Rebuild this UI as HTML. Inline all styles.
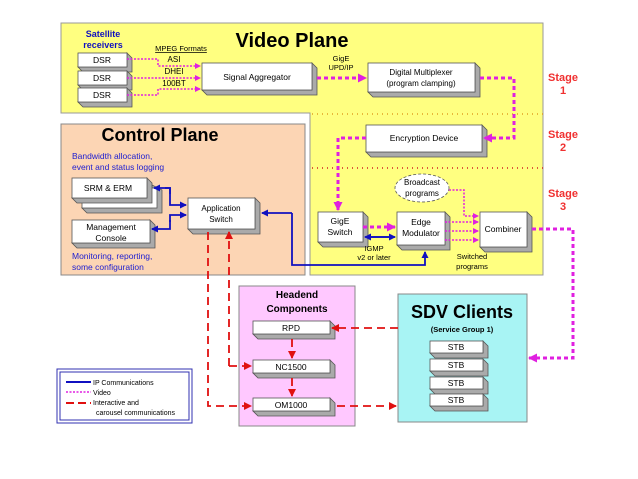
<!DOCTYPE html>
<html><head><meta charset="utf-8"><style>
html,body{margin:0;padding:0;background:#fff}
svg{display:block;font-family:"Liberation Sans",Arial,sans-serif}
</style></head><body>
<svg width="638" height="479" viewBox="0 0 638 479" xmlns="http://www.w3.org/2000/svg">
<defs>
<marker id="am" markerWidth="6" markerHeight="6" refX="5" refY="3" orient="auto" markerUnits="userSpaceOnUse"><path d="M0,0 L6,3 L0,6z" fill="#e020e0"/></marker>
<marker id="ab" markerWidth="7" markerHeight="7" refX="6" refY="3.5" orient="auto" markerUnits="userSpaceOnUse"><path d="M0,0 L7,3.5 L0,7z" fill="#1010c0"/></marker>
<marker id="ar" markerWidth="8" markerHeight="8" refX="7" refY="4" orient="auto" markerUnits="userSpaceOnUse"><path d="M0,0 L8,4 L0,8z" fill="#e01010"/></marker>
<marker id="amb" markerWidth="9" markerHeight="9" refX="8" refY="4.5" orient="auto" markerUnits="userSpaceOnUse"><path d="M0,0 L9,4.5 L0,9z" fill="#e020e0"/></marker>
</defs>
<path d="M61,23 H543 V275 H310 V113 H61 Z" fill="#ffff80" stroke="#999" stroke-width="1"/>
<rect x="61" y="124" width="244" height="151" fill="#fcd5b4" stroke="#888"/>
<line x1="312" y1="114" x2="543" y2="114" stroke="#e0a020" stroke-dasharray="1,4" stroke-width="1.5"/>
<line x1="312" y1="168" x2="543" y2="168" stroke="#d02020" stroke-dasharray="1,4" stroke-width="1.5"/>
<text x="292" y="47" font-size="20" font-weight="bold" text-anchor="middle">Video Plane</text>
<text x="103" y="37" font-size="9" font-weight="bold" fill="#1010c0" text-anchor="middle">Satellite</text>
<text x="103" y="48" font-size="9" font-weight="bold" fill="#1010c0" text-anchor="middle">receivers</text>
<text x="181" y="51" font-size="7.5" text-anchor="middle" text-decoration="underline">MPEG Formats</text>
<text x="174" y="62" font-size="8" text-anchor="middle">ASI</text>
<text x="174" y="74" font-size="8" text-anchor="middle">DHEI</text>
<text x="174" y="86" font-size="8" text-anchor="middle">100BT</text>
<text x="160" y="141" font-size="18" font-weight="bold" text-anchor="middle">Control Plane</text>
<text x="72" y="159" font-size="8.5" fill="#2020d0">Bandwidth allocation,</text>
<text x="72" y="170" font-size="8.5" fill="#2020d0">event and status logging</text>
<text x="72" y="259" font-size="8.5" fill="#2020d0">Monitoring, reporting,</text>
<text x="72" y="270" font-size="8.5" fill="#2020d0">some configuration</text>
<rect x="239" y="286" width="116" height="140" fill="#ffc8ff" stroke="#888"/>
<text x="297" y="298" font-size="10" font-weight="bold" text-anchor="middle">Headend</text>
<text x="297" y="312" font-size="10" font-weight="bold" text-anchor="middle">Components</text>
<rect x="398" y="294" width="129" height="128" fill="#a8f4f4" stroke="#888"/>
<text x="462" y="318" font-size="18" font-weight="bold" text-anchor="middle">SDV Clients</text>
<text x="462" y="332" font-size="7.5" font-weight="bold" text-anchor="middle">(Service Group 1)</text>
<g fill="#f03030" font-size="11" font-weight="bold" text-anchor="middle">
<text x="563" y="81">Stage</text><text x="563" y="94">1</text>
<text x="563" y="138">Stage</text><text x="563" y="151">2</text>
<text x="563" y="197">Stage</text><text x="563" y="210">3</text>
</g>
<g font-size="8.5" text-anchor="middle" stroke-width="0.8">
<g><polygon points="127,53 132,58 132,72 83,72 78,67 127,67" fill="#aaa" stroke="#555"/><rect x="78" y="53" width="49" height="14" fill="#fff" stroke="#555"/><text x="102" y="63">DSR</text></g>
<g><polygon points="127,71 132,76 132,90 83,90 78,85 127,85" fill="#aaa" stroke="#555"/><rect x="78" y="71" width="49" height="14" fill="#fff" stroke="#555"/><text x="102" y="81">DSR</text></g>
<g><polygon points="127,88 132,93 132,107 83,107 78,102 127,102" fill="#aaa" stroke="#555"/><rect x="78" y="88" width="49" height="14" fill="#fff" stroke="#555"/><text x="102" y="98">DSR</text></g>
<g><polygon points="312,63 317,68 317,95 207,95 202,90 312,90" fill="#aaa" stroke="#555"/><rect x="202" y="63" width="110" height="27" fill="#fff" stroke="#555"/><text x="257" y="80">Signal Aggregator</text></g>
<g><polygon points="475,63 480,68 480,97 373,97 368,92 475,92" fill="#aaa" stroke="#555"/><rect x="368" y="63" width="107" height="29" fill="#fff" stroke="#555"/><text x="421" y="75" font-size="8">Digital Multiplexer</text><text x="421" y="86" font-size="8">(program clamping)</text></g>
<g><polygon points="482,125 487,130 487,157 371,157 366,152 482,152" fill="#aaa" stroke="#555"/><rect x="366" y="125" width="116" height="27" fill="#fff" stroke="#555"/><text x="424" y="141">Encryption Device</text></g>
<g><polygon points="363,212 368,217 368,247 323,247 318,242 363,242" fill="#aaa" stroke="#555"/><rect x="318" y="212" width="45" height="30" fill="#fff" stroke="#555"/><text x="340" y="224">GigE</text><text x="340" y="235">Switch</text></g>
<g><polygon points="445,212 450,217 450,250 402,250 397,245 445,245" fill="#aaa" stroke="#555"/><rect x="397" y="212" width="48" height="33" fill="#fff" stroke="#555"/><text x="421" y="225">Edge</text><text x="421" y="236">Modulator</text></g>
<g><polygon points="527,212 532,217 532,252 485,252 480,247 527,247" fill="#aaa" stroke="#555"/><rect x="480" y="212" width="47" height="35" fill="#fff" stroke="#555"/><text x="503" y="232">Combiner</text></g>
<ellipse cx="422" cy="188" rx="27" ry="14" fill="#fff" stroke="#555" stroke-dasharray="3,2"/>
<text x="422" y="185" font-size="8">Broadcast</text><text x="422" y="196" font-size="8">programs</text>
<g><polygon points="152,185 162,190 162,213 87,213 82,208 152,208" fill="#aaa" stroke="#555"/><rect x="82" y="188" width="75" height="20" fill="#fff" stroke="#555"/></g>
<g><polygon points="147,178 152,183 152,203 77,203 72,198 147,198" fill="#aaa" stroke="#555"/><rect x="72" y="178" width="75" height="20" fill="#fff" stroke="#555"/><text x="108" y="191">SRM &amp; ERM</text></g>
<g><polygon points="150,220 155,225 155,248 77,248 72,243 150,243" fill="#aaa" stroke="#555"/><rect x="72" y="220" width="78" height="23" fill="#fff" stroke="#555"/><text x="111" y="230">Management</text><text x="111" y="241">Console</text></g>
<g><polygon points="255,198 260,203 260,234 193,234 188,229 255,229" fill="#aaa" stroke="#555"/><rect x="188" y="198" width="67" height="31" fill="#fff" stroke="#555"/><text x="221" y="211" font-size="8">Application</text><text x="221" y="222" font-size="8">Switch</text></g>
<g><polygon points="330,321 335,326 335,339 258,339 253,334 330,334" fill="#aaa" stroke="#555"/><rect x="253" y="321" width="77" height="13" fill="#fff" stroke="#555"/><text x="291" y="331">RPD</text></g>
<g><polygon points="330,360 335,365 335,378 258,378 253,373 330,373" fill="#aaa" stroke="#555"/><rect x="253" y="360" width="77" height="13" fill="#fff" stroke="#555"/><text x="291" y="370">NC1500</text></g>
<g><polygon points="330,398 335,403 335,416 258,416 253,411 330,411" fill="#aaa" stroke="#555"/><rect x="253" y="398" width="77" height="13" fill="#fff" stroke="#555"/><text x="291" y="408">OM1000</text></g>
<g><polygon points="483,341 488,346 488,358 435,358 430,353 483,353" fill="#aaa" stroke="#555"/><rect x="430" y="341" width="53" height="12" fill="#fff" stroke="#555"/><text x="456" y="350">STB</text></g>
<g><polygon points="483,359 488,364 488,376 435,376 430,371 483,371" fill="#aaa" stroke="#555"/><rect x="430" y="359" width="53" height="12" fill="#fff" stroke="#555"/><text x="456" y="368">STB</text></g>
<g><polygon points="483,377 488,382 488,394 435,394 430,389 483,389" fill="#aaa" stroke="#555"/><rect x="430" y="377" width="53" height="12" fill="#fff" stroke="#555"/><text x="456" y="386">STB</text></g>
<g><polygon points="483,394 488,399 488,411 435,411 430,406 483,406" fill="#aaa" stroke="#555"/><rect x="430" y="394" width="53" height="12" fill="#fff" stroke="#555"/><text x="456" y="403">STB</text></g>
</g>
<g fill="none" stroke="#e020e0" stroke-width="1.5" stroke-dasharray="2,1.5">
<path d="M127,59 H158 V66 H200" marker-end="url(#am)"/>
<path d="M127,78 H200" marker-end="url(#am)"/>
<path d="M127,95 H158 V89 H200" marker-end="url(#am)"/>
<path d="M445,222 H478" marker-end="url(#am)"/>
<path d="M445,231 H478" marker-end="url(#am)"/>
<path d="M445,240 H478" marker-end="url(#am)"/>
<path d="M449,190 H464 V216 H478" marker-end="url(#am)"/>
</g>
<g fill="none" stroke="#e020e0" stroke-width="3" stroke-dasharray="4,3">
<path d="M317,78 H366" marker-end="url(#amb)"/>
<path d="M480,78 H514 V138 H484" marker-end="url(#amb)"/>
<path d="M366,138 H338 V210" marker-end="url(#amb)"/>
<path d="M363,227 H395" marker-end="url(#amb)"/>
<path d="M532,229 H573 V358 H529" marker-end="url(#amb)"/>
</g>
<text x="341" y="61" font-size="7.5" text-anchor="middle">GigE</text>
<text x="341" y="70" font-size="7.5" text-anchor="middle">UPD/IP</text>
<text x="374" y="251" font-size="7.5" text-anchor="middle">IGMP</text>
<text x="374" y="260" font-size="7.5" text-anchor="middle">v2 or later</text>
<text x="472" y="259" font-size="7.5" text-anchor="middle">Switched</text>
<text x="472" y="269" font-size="7.5" text-anchor="middle">programs</text>
<g fill="none" stroke="#1010c0" stroke-width="1.8">
<path d="M370,237 H395" marker-end="url(#ab)"/>
<path d="M390,237 H365" marker-end="url(#ab)"/>
<path d="M292,213 V265 H425 V252" marker-end="url(#ab)"/>
<path d="M292,213 H262" marker-end="url(#ab)"/>
<path d="M165,188 H170 V205 H186" marker-end="url(#ab)"/>
<path d="M170,194 V188 H154" marker-end="url(#ab)"/>
<path d="M170,222 V215 H186" marker-end="url(#ab)"/>
<path d="M170,220 V229 H152" marker-end="url(#ab)"/>
</g>
<g fill="none" stroke="#e01010" stroke-width="1.8" stroke-dasharray="8,5">
<path d="M208,232 V406 H251" marker-end="url(#ar)"/>
<path d="M229,366 H251" marker-end="url(#ar)"/>
<path d="M229,366 V232" marker-end="url(#ar)"/>
<path d="M398,328 H332" marker-end="url(#ar)"/>
<path d="M292,339 V358" marker-end="url(#ar)"/>
<path d="M292,378 V396" marker-end="url(#ar)"/>
<path d="M337,406 H396" marker-end="url(#ar)"/>
</g>
<rect x="57" y="369" width="135" height="54" fill="#fff" stroke="#3030b0" stroke-width="1"/>
<rect x="60" y="372" width="129" height="48" fill="none" stroke="#3030b0" stroke-width="1"/>
<line x1="66" y1="382" x2="91" y2="382" stroke="#1010c0" stroke-width="2"/>
<line x1="66" y1="392" x2="91" y2="392" stroke="#e020e0" stroke-width="1.5" stroke-dasharray="2,1.5"/>
<line x1="66" y1="403" x2="91" y2="403" stroke="#e01010" stroke-width="2" stroke-dasharray="8,4"/>
<g font-size="7">
<text x="93" y="385">IP Communications</text>
<text x="93" y="395">Video</text>
<text x="93" y="405">Interactive and</text>
<text x="96" y="415">carousel communications</text>
</g>
</svg>
</body></html>
